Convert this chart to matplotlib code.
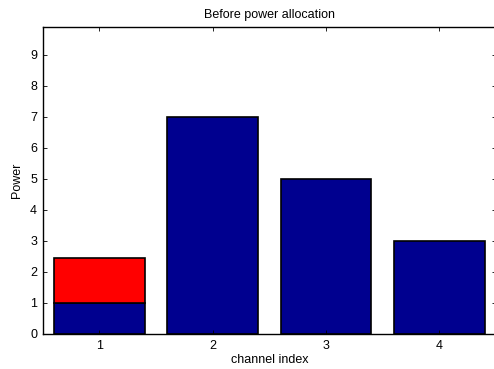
import numpy as np
import matplotlib
matplotlib.use("Agg")
import matplotlib.pyplot as plt

plt.rcParams['font.family'] = ['Liberation Sans', 'DejaVu Sans']

channels = [1, 2, 3, 4]
base_power = [1, 7, 5, 3]
extra_power = [1.45, 0, 0, 0]

fig = plt.figure(figsize=(4.94, 3.69), dpi=100)
ax = fig.add_axes([0.0864, 0.0949, 0.9176, 0.8328])

navy = '#00008F'
ax.bar(channels, base_power, width=0.8, color=navy, edgecolor='black', linewidth=1.2)
ax.bar(channels[:1], extra_power[:1], width=0.8, bottom=base_power[:1],
       color='#FF0000', edgecolor='black', linewidth=1.2)

ax.set_xlim(0.5, 4.5)
ax.set_ylim(0, 9.9)
ax.set_xticks(channels)
ax.set_yticks(range(0, 10))
ax.tick_params(direction='in', length=3, width=0.6, labelsize=9,
               top=True, right=True, pad=4)
for s in ax.spines.values():
    s.set_linewidth(1.0)

ax.set_title('Before power allocation', fontsize=9, pad=6)
ax.set_xlabel('channel index', fontsize=9, labelpad=2)
ax.set_ylabel('Power', fontsize=9, labelpad=5)

fig.savefig('out.png', dpi=100)
